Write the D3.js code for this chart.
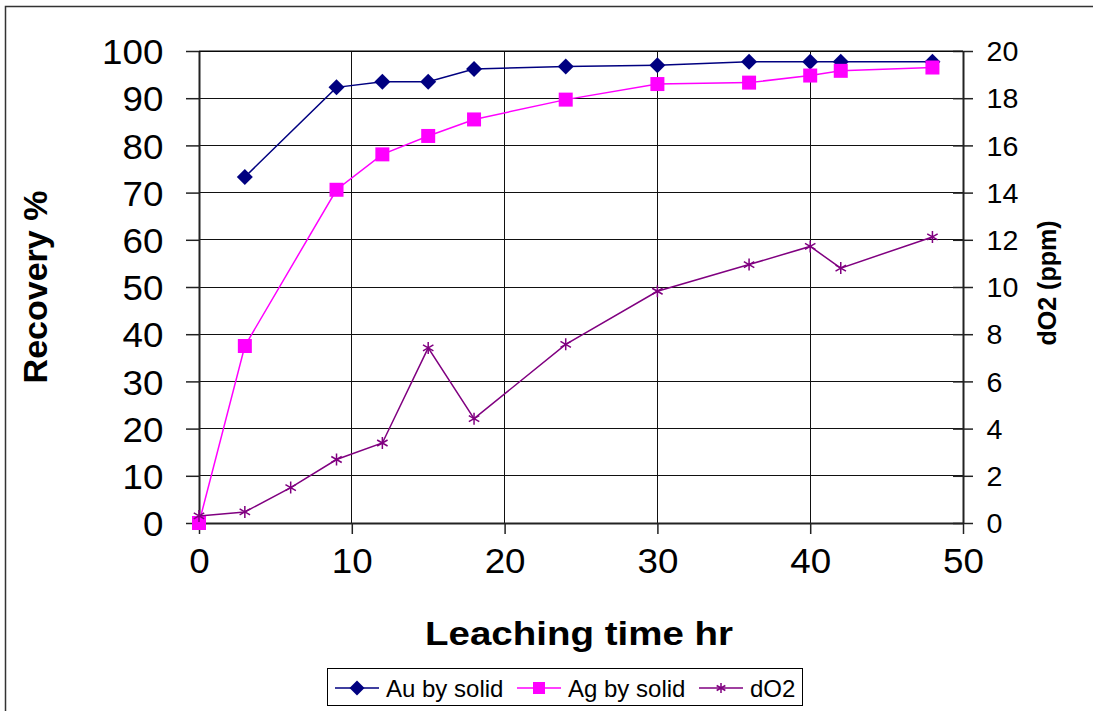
<!DOCTYPE html>
<html>
<head>
<meta charset="utf-8">
<script src="https://cdn.jsdelivr.net/npm/d3@7"></script>
<style>
  body { margin: 0; background: #fff; }
  svg { display: block; font-family: 'Liberation Sans', Arial, sans-serif; }
</style>
</head>
<body>
<div id="chart"></div>
<script>
// data
const hours = [0, 3, 6, 9, 12, 15, 18, 24, 30, 36, 40, 42, 48];
const auHours = [3, 9, 12, 15, 18, 24, 30, 36, 40, 42, 48];
const auRecovery = [73.3, 92.3, 93.5, 93.5, 96.2, 96.7, 97.0, 97.7, 97.7, 97.7, 97.7];
const agHours = [0, 3, 9, 12, 15, 18, 24, 30, 36, 40, 42, 48];
const agRecovery = [0, 37.5, 70.6, 78.1, 82.0, 85.5, 89.7, 93.0, 93.3, 94.8, 95.8, 96.5];
const dO2 = [0.3, 0.47, 1.5, 2.69, 3.39, 7.42, 4.42, 7.57, 9.82, 10.95, 11.72, 10.8, 12.12];

const xTicks = [0, 10, 20, 30, 40, 50];
const leftTicks = [0, 10, 20, 30, 40, 50, 60, 70, 80, 90, 100];
const rightTicks = [0, 2, 4, 6, 8, 10, 12, 14, 16, 18, 20];
const seriesNames = ['Au by solid', 'Ag by solid', 'dO2'];

const W = 1093, H = 711;
const margin = { top: 51, right: 130, bottom: 188, left: 199 };
const width = W - margin.left - margin.right;   // 764
const height = H - margin.top - margin.bottom;  // 472

const svg = d3.select('#chart').append('svg')
  .attr('width', W)
  .attr('height', H);

// outer chart frame (runs off the right/bottom edges like the original)
svg.append('rect')
  .attr('x', 5.5).attr('y', 6.5)
  .attr('width', W + 20).attr('height', H + 20)
  .attr('fill', 'none')
  .attr('stroke', '#333')
  .attr('stroke-width', 1.5);

const plot = svg.append('g')
  .attr('transform', `translate(${margin.left},${margin.top})`);

const x = d3.scaleLinear().domain([0, 50]).range([0, width]);
const yL = d3.scaleLinear().domain([0, 100]).range([height, 0]);
const yR = d3.scaleLinear().domain([0, 20]).range([height, 0]);

// gridlines
plot.append('g')
  .selectAll('line.h')
  .data(leftTicks)
  .join('line')
  .attr('x1', 0).attr('x2', width)
  .attr('y1', d => yL(d)).attr('y2', d => yL(d))
  .attr('stroke', '#111')
  .attr('stroke-width', 1)
  .attr('shape-rendering', 'crispEdges');

plot.append('g')
  .selectAll('line.v')
  .data(xTicks)
  .join('line')
  .attr('y1', 0).attr('y2', height)
  .attr('x1', d => x(d)).attr('x2', d => x(d))
  .attr('stroke', '#111')
  .attr('stroke-width', 1)
  .attr('shape-rendering', 'crispEdges');

// axes
const xAxis = plot.append('g')
  .attr('transform', `translate(0,${height})`)
  .call(d3.axisBottom(x).tickValues(xTicks).tickSize(11).tickSizeOuter(0).tickPadding(14));

const leftAxis = plot.append('g')
  .call(d3.axisLeft(yL).tickValues(leftTicks).tickSize(13).tickSizeOuter(0).tickPadding(22));

const rightAxis = plot.append('g')
  .attr('transform', `translate(${width},0)`)
  .call(d3.axisRight(yR).tickValues(rightTicks).tickSize(10).tickSizeOuter(0).tickPadding(13));

// inner half of the right-axis ticks
rightAxis.selectAll('.tick')
  .append('line')
  .attr('x1', -10).attr('x2', 0)
  .attr('stroke', '#000');

[xAxis, leftAxis, rightAxis].forEach(g => {
  g.select('.domain').attr('stroke', '#222').attr('stroke-width', 2);
  g.selectAll('.tick line').attr('stroke', '#222').attr('stroke-width', 1.5);
  g.selectAll('.tick text').attr('fill', '#000').attr('font-family', "'Liberation Sans', Arial, sans-serif");
});
// the original's tick labels are a little wider than plain Arial
xAxis.selectAll('.tick text').attr('font-size', 35).attr('dy', '0.71em')
  .attr('transform', 'scale(1.05,1)');
leftAxis.selectAll('.tick text').attr('font-size', 35).attr('dy', '0.36em')
  .attr('transform', 'translate(-22,0) scale(1.05,1) translate(22,0)');
rightAxis.selectAll('.tick text').attr('font-size', 27).attr('dy', '0.36em')
  .attr('transform', 'translate(13,0) scale(1.06,1) translate(-13,0)');

// top border of the plot area
plot.append('line')
  .attr('x1', 0).attr('x2', width)
  .attr('y1', 0).attr('y2', 0)
  .attr('stroke', '#000');

// axis titles
svg.append('text')
  .attr('transform', `translate(47,${margin.top + height / 2}) rotate(-90)`)
  .attr('text-anchor', 'middle')
  .attr('font-size', 34)
  .attr('font-weight', 'bold')
  .text('Recovery %');

svg.append('text')
  .attr('transform', `translate(1056,${margin.top + height / 2 - 4}) rotate(-90)`)
  .attr('text-anchor', 'middle')
  .attr('font-size', 25)
  .attr('font-weight', 'bold')
  .text('dO2 (ppm)');

svg.append('text')
  .attr('x', 425).attr('y', 645)
  .attr('font-size', 33)
  .attr('font-weight', 'bold')
  .attr('textLength', 308)
  .attr('lengthAdjust', 'spacingAndGlyphs')
  .text('Leaching time hr');

// series
const auData = auHours.map((h, i) => [h, auRecovery[i]]);
const agData = agHours.map((h, i) => [h, agRecovery[i]]);
const doData = hours.map((h, i) => [h, dO2[i]]);

const lineL = d3.line().x(d => x(d[0])).y(d => yL(d[1]));
const lineR = d3.line().x(d => x(d[0])).y(d => yR(d[1]));

const diamond = s => `M0,${-s}L${s},0L0,${s}L${-s},0Z`;
const square = s => `M${-s},${-s}H${s}V${s}H${-s}Z`;
const star = s => {
  const a = s * 0.87, b = s * 0.5;
  return `M0,${-s}V${s}M${-a},${-b}L${a},${b}M${-a},${b}L${a},${-b}`;
};

const series = [
  { data: auData, line: lineL, y: yL, color: '#000080', marker: diamond(8), fill: true },
  { data: agData, line: lineL, y: yL, color: '#FF00FF', marker: square(7), fill: true },
  { data: doData, line: lineR, y: yR, color: '#800080', marker: star(6), fill: false },
];

series.forEach(s => {
  plot.append('path')
    .datum(s.data)
    .attr('d', s.line)
    .attr('fill', 'none')
    .attr('stroke', s.color)
    .attr('stroke-width', 1.5);

  plot.append('g')
    .selectAll('path')
    .data(s.data)
    .join('path')
    .attr('transform', d => `translate(${x(d[0])},${s.y(d[1])})`)
    .attr('d', s.marker)
    .attr('fill', s.fill ? s.color : 'none')
    .attr('stroke', s.color)
    .attr('stroke-width', s.fill ? 0 : 1.5);
});

// legend
const legend = svg.append('g');
legend.append('rect')
  .attr('x', 327.5).attr('y', 668.5)
  .attr('width', 475).attr('height', 37)
  .attr('fill', '#fff')
  .attr('stroke', '#000')
  .attr('stroke-width', 1);

const legendX = [335, 517, 699];
const legendMarkers = [diamond(7.5), square(6), star(5)];
seriesNames.forEach((name, i) => {
  const g = legend.append('g').attr('transform', `translate(${legendX[i]},688)`);
  g.append('line')
    .attr('x1', 0).attr('x2', 44)
    .attr('stroke', series[i].color)
    .attr('stroke-width', 1.5);
  g.append('path')
    .attr('transform', 'translate(22,0)')
    .attr('d', legendMarkers[i])
    .attr('fill', series[i].fill ? series[i].color : 'none')
    .attr('stroke', series[i].color)
    .attr('stroke-width', series[i].fill ? 0 : 1.5);
  g.append('text')
    .attr('x', 51).attr('y', 9)
    .attr('font-size', 24)
    .text(name);
});
</script>
</body>
</html>
